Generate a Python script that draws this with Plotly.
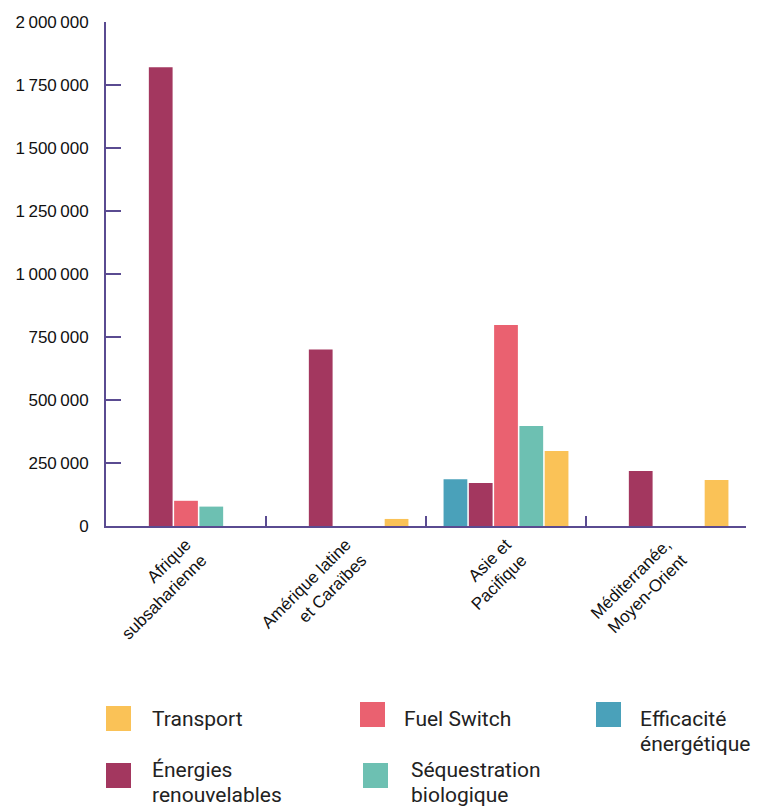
import plotly.graph_objects as go

# data
regions = ["Afrique<br>subsaharienne", "Amérique latine<br>et Caraïbes",
           "Asie et<br>Pacifique", "Méditerranée,<br>Moyen-Orient"]
efficacite = [None, None, 186000, None]
energies = [1820000, 700000, 171000, 218000]
fuel_switch = [100000, None, 798000, None]
sequestration = [77000, None, 397000, None]
transport = [None, 28000, 298000, 183000]

y_ticks = [0, 250000, 500000, 750000, 1000000, 1250000, 1500000, 1750000, 2000000]
y_tick_text = ["0", "250\u2009000", "500\u2009000", "750\u2009000", "1\u2009000\u2009000",
               "1\u2009250\u2009000", "1\u2009500\u2009000", "1\u2009750\u2009000", "2\u2009000\u2009000"]

series = [
    ("Efficacité<br>énergétique", efficacite, "#4AA1BA"),
    ("Énergies<br>renouvelables", energies, "#A3375F"),
    ("Fuel Switch", fuel_switch, "#EA6170"),
    ("Séquestration<br>biologique", sequestration, "#6DC0B2"),
    ("Transport", transport, "#FAC257"),
]

AXIS = "#5A4B91"
W, H = 758, 807
L, R, T, B = 106, 746, 22, 526


def px_x(x):
    return (x - L) / (R - L)


def px_y(y):
    return (B - y) / (B - T)


fig = go.Figure()
for name, vals, color in series:
    fig.add_trace(go.Bar(x=regions, y=vals, name=name, marker_color=color,
                         marker_line_width=0, showlegend=False))

# hand-placed legend: swatch left, swatch top, text left, first line centre, series index
legend_layout = [
    (106, 706, 150, 719, 4),
    (360, 702, 402, 719, 2),
    (596, 702, 638, 719, 0),
    (106, 763, 150, 770, 1),
    (363, 763, 409, 770, 3),
]
for sx, sy, tx, ty, i in legend_layout:
    name, _, color = series[i]
    fig.add_shape(type="rect", xref="paper", yref="paper",
                  x0=px_x(sx), x1=px_x(sx + 25), y0=px_y(sy), y1=px_y(sy + 25),
                  fillcolor=color, line_width=0)
    for k, line in enumerate(name.split("<br>")):
        fig.add_annotation(text=line, xref="paper", yref="paper",
                           x=px_x(tx), y=px_y(ty + 24.5 * k), xanchor="left", yanchor="middle",
                           align="left", showarrow=False,
                           font=dict(family="Roboto", size=21, color="#222222"))

fig.update_layout(
    width=W, height=H,
    margin=dict(l=L, r=W - R, t=T, b=H - B),
    plot_bgcolor="white", paper_bgcolor="white",
    barmode="group", bargap=0.21, bargroupgap=0.06,
    font=dict(family="Liberation Sans", size=17, color="#111111"),
)
fig.update_xaxes(
    showline=True, linecolor=AXIS, linewidth=2,
    ticks="inside", tickson="boundaries", ticklen=10, tickwidth=2, tickcolor=AXIS,
    tickangle=-45, tickfont=dict(size=17), showgrid=False,
)
fig.update_yaxes(
    range=[0, 2000000], showline=True, linecolor=AXIS, linewidth=2,
    ticks="inside", ticklen=15, tickwidth=2, tickcolor=AXIS,
    tickvals=y_ticks, ticktext=y_tick_text, ticklabelstandoff=12,
    showgrid=False, zeroline=False,
)

fig.write_html("out.html", config={"displayModeBar": False},
               post_script="document.body.style.margin='0';")
